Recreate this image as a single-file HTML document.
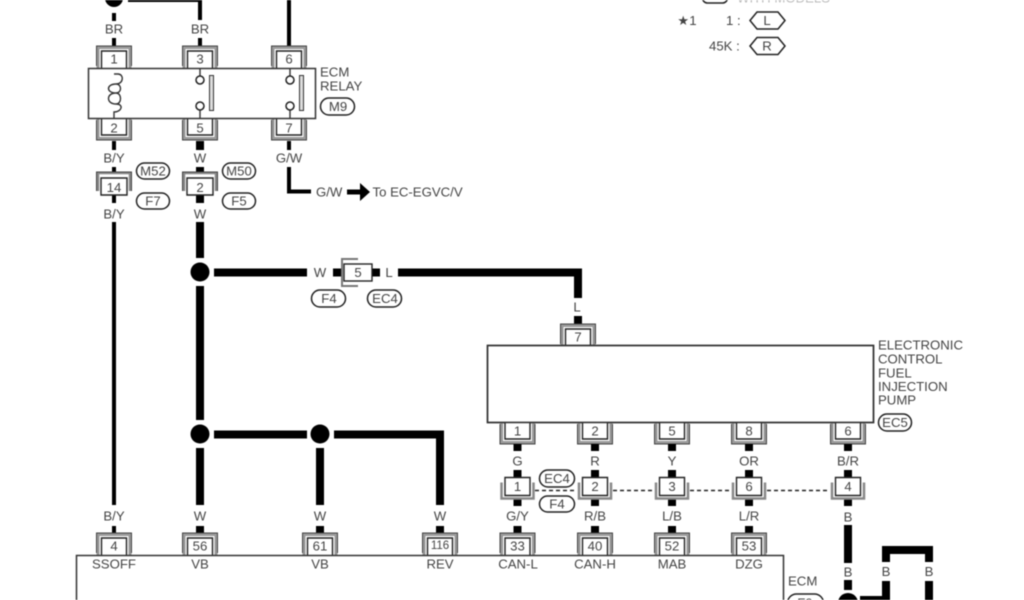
<!DOCTYPE html>
<html>
<head>
<meta charset="utf-8">
<style>
html,body{margin:0;padding:0;background:#fff;width:1024px;height:600px;overflow:hidden}
svg{display:block;filter:blur(0.55px)}
text{font-family:"Liberation Sans",sans-serif;font-size:13.2px;fill:#444;text-anchor:middle;dominant-baseline:central}
.l{text-anchor:start}
.w{fill:none;stroke:#000;stroke-width:4}
.t{fill:none;stroke:#000;stroke-width:8}
.p{fill:#fff;stroke:#222;stroke-width:1.5}
</style>
</head>
<body>
<svg width="1024" height="600" viewBox="0 0 1024 600" xmlns="http://www.w3.org/2000/svg">
<defs>
<g id="up">
<path d="M-16,0V-20.500H16V0" fill="none" stroke="#999" stroke-width="3"/>
<path d="M-17.500,-2V-22H17.500V-2" fill="none" stroke="#444" stroke-width="1"/>
<path d="M-12.500,0V-17H12.500V0" fill="#fff" stroke="#222" stroke-width="1.400"/>
</g>
<g id="dn">
<path d="M-16,0V20.500H16V0" fill="none" stroke="#999" stroke-width="3"/>
<path d="M-17.500,2V22H17.500V2" fill="none" stroke="#444" stroke-width="1"/>
<path d="M-12.500,0V17H12.500V0" fill="#fff" stroke="#222" stroke-width="1.400"/>
</g>
<g id="in">
<path d="M-16,5V21H16V5" fill="none" stroke="#888" stroke-width="2.500"/>
<path d="M-12.500,0H12.500V18H-12.500Z" fill="#fff" stroke="#222" stroke-width="1.400"/>
</g>
<g id="in2">
<path d="M-16,18V0H16V18" fill="none" stroke="#888" stroke-width="2.500"/>
<path d="M-17.500,18V-1H17.500V18" fill="none" stroke="#444" stroke-width="1"/>
<path d="M-13,5H13V22H-13Z" fill="#fff" stroke="#222" stroke-width="1.400"/>
</g>
</defs>

<!-- top-left wires -->
<circle cx="114" cy="-2" r="9"/>
<path class="w" d="M114,13V21M114,38V46M128,0H200V20M200,38V46M289,0V46"/>
<text x="114" y="29">BR</text><text x="200" y="29">BR</text>

<!-- ECM relay connectors -->
<use href="#up" x="114" y="68"/><use href="#up" x="200" y="68"/><use href="#up" x="289" y="68"/>
<use href="#dn" x="114" y="118"/><use href="#dn" x="200" y="118"/><use href="#dn" x="289" y="118"/>
<rect x="88.500" y="68.500" width="227" height="50" fill="#fff" stroke="#333" stroke-width="1.500"/>
<text x="114" y="59">1</text><text x="200" y="59">3</text><text x="289" y="59">6</text>
<text x="114" y="128">2</text><text x="200" y="128">5</text><text x="289" y="128">7</text>
<path d="M114,74H118C124,74 124,84 116,84C106,84 106,93 116,93C106,93 106,104 116,104C124,104 122,112 114,112V118M116,84C122,84 122,93 116,93C122,93 122,104 116,104" fill="none" stroke="#333" stroke-width="1.400"/>
<path d="M200,68V76M200,110V118M290,68V76M290,110V118" stroke="#333" stroke-width="1.400"/>
<circle class="p" cx="200" cy="80" r="4"/><circle class="p" cx="200" cy="106" r="4"/>
<circle class="p" cx="290" cy="80" r="4"/><circle class="p" cx="290" cy="106" r="4"/>
<rect x="209.500" y="75.500" width="4" height="35" fill="#ddd" stroke="#333"/>
<rect x="299.500" y="75.500" width="4" height="35" fill="#ddd" stroke="#333"/>
<text class="l" x="320" y="72">ECM</text><text class="l" x="320" y="86">RELAY</text>
<rect class="p" x="320.500" y="98" width="34" height="17" rx="8.500"/><text x="338" y="106.500">M9</text>

<!-- below relay -->
<path class="w" d="M114,141V150M114,167V174M114,195V203M114,222V505M114,526V534"/>
<path class="t" d="M200,141V150M200,167V174M200,195V203M200,222V258M200,286V420M200,448V505M200,526V534"/>
<path class="w" d="M289,141V150M289,167V191.500H311"/>
<text x="114" y="158">B/Y</text><text x="200" y="158">W</text><text x="289" y="158">G/W</text>
<text x="114" y="214">B/Y</text><text x="200" y="214">W</text>
<use href="#in2" x="114" y="173"/><use href="#in2" x="200" y="173"/>
<text x="114" y="187.500">14</text><text x="200" y="187.500">2</text>
<rect class="p" x="136.500" y="163" width="33" height="16" rx="8"/><text x="153" y="171">M52</text>
<rect class="p" x="136.500" y="193" width="33" height="16" rx="8"/><text x="153" y="201">F7</text>
<rect class="p" x="222.500" y="163" width="33" height="16" rx="8"/><text x="239" y="171">M50</text>
<rect class="p" x="222.500" y="193" width="33" height="16" rx="8"/><text x="239" y="201">F5</text>
<text class="l" x="316" y="192">G/W</text>
<path d="M347,189.500H360V183L370,192L360,201V194.500H347Z"/>
<text class="l" x="372.500" y="192">To EC-EGVC/V</text>

<!-- W / L horizontal -->
<circle cx="200" cy="272" r="9.500"/>
<path class="t" d="M214,272.500H307M333,272.500H343M372,272.500H380M398,272.500H578V298M578,316V324"/>
<text x="320" y="272.500">W</text><text x="389" y="272.500">L</text><text x="577" y="307">L</text>
<path d="M358,259H342V286H358" fill="none" stroke="#777" stroke-width="2"/>
<rect x="344" y="264" width="28" height="17" fill="#fff" stroke="#222" stroke-width="1.400"/>
<text x="358" y="272.500">5</text>
<rect class="p" x="311.500" y="290" width="34" height="17" rx="8.500"/><text x="329" y="298.500">F4</text>
<rect class="p" x="367.500" y="290" width="34" height="17" rx="8.500"/><text x="385" y="298.500">EC4</text>

<!-- injection pump -->
<use href="#up" x="578" y="346"/>
<rect x="487.500" y="345.500" width="386" height="77" fill="#fff" stroke="#333" stroke-width="1.500"/>
<text x="578" y="337">7</text>
<text class="l" x="878" y="345">ELECTRONIC</text><text class="l" x="878" y="359">CONTROL</text><text class="l" x="878" y="373">FUEL</text><text class="l" x="878" y="386.500">INJECTION</text><text class="l" x="878" y="400">PUMP</text>
<rect class="p" x="878.500" y="414" width="33" height="17" rx="8.500"/><text x="895" y="422.500">EC5</text>

<use href="#dn" x="517.500" y="422"/><use href="#dn" x="595" y="422"/><use href="#dn" x="672" y="422"/><use href="#dn" x="749" y="422"/><use href="#dn" x="848" y="422"/>
<rect x="487.500" y="345.500" width="386" height="77" fill="none" stroke="#333" stroke-width="1.500"/>
<text x="517.500" y="431">1</text><text x="595" y="431">2</text><text x="672" y="431">5</text><text x="749" y="431">8</text><text x="848" y="431">6</text>

<path class="t" d="M517.500,444V451M517.500,470V478M517.500,498V506M517.500,526V534M595,444V451M595,470V478M595,498V506M595,526V534M672,444V451M672,470V478M672,498V506M672,526V534M749,444V451M749,470V478M749,498V506M749,526V534M848,444V451M848,470V478M848,498V506M848,525V563M848,580V590"/>
<text x="517.500" y="461">G</text><text x="595" y="461">R</text><text x="672" y="461">Y</text><text x="749" y="461">OR</text><text x="848" y="461">B/R</text>
<use href="#in" x="517.500" y="477.500"/><use href="#in" x="595" y="477.500"/><use href="#in" x="672" y="477.500"/><use href="#in" x="749" y="477.500"/><use href="#in" x="848" y="477.500"/>
<text x="517.500" y="486.500">1</text><text x="595" y="486.500">2</text><text x="672" y="486.500">3</text><text x="749" y="486.500">6</text><text x="848" y="486.500">4</text>
<path d="M535,490.500H577M613,490.500H654M690,490.500H731M767,490.500H830" stroke="#222" stroke-width="1.500" stroke-dasharray="4 3"/>
<rect class="p" x="539.500" y="470" width="35" height="17" rx="8.500"/><text x="557" y="478.500">EC4</text>
<rect class="p" x="539.500" y="496" width="35" height="16" rx="8"/><text x="557" y="504">F4</text>
<text x="517.500" y="516">G/Y</text><text x="595" y="516">R/B</text><text x="672" y="516">L/B</text><text x="749" y="516">L/R</text><text x="848" y="517">B</text>
<text x="114" y="516">B/Y</text><text x="200" y="516">W</text><text x="320" y="516">W</text><text x="440" y="516">W</text>

<!-- junctions -->
<circle cx="200" cy="434" r="9.500"/><circle cx="320" cy="434" r="9.500"/>
<path class="t" d="M214,434.500H307M334,434.500H440V505M320,448V505M320,526V534M440,526V534"/>

<!-- ECM connectors -->
<use href="#up" x="114" y="555"/><use href="#up" x="200" y="555"/><use href="#up" x="320" y="555"/><use href="#up" x="440" y="555"/><use href="#up" x="517.500" y="555"/><use href="#up" x="595" y="555"/><use href="#up" x="672" y="555"/><use href="#up" x="749" y="555"/>
<path d="M76.500,601V555.500H783.500V601" fill="#fff" stroke="#333" stroke-width="1.500"/>
<text x="114" y="546">4</text><text x="200" y="546">56</text><text x="320" y="546">61</text><text x="440" y="546" style="font-size:11.500px">116</text><text x="517.500" y="546">33</text><text x="595" y="546">40</text><text x="672" y="546">52</text><text x="749" y="546">53</text>
<text x="114" y="564">SSOFF</text><text x="200" y="564">VB</text><text x="320" y="564">VB</text><text x="440" y="564">REV</text><text x="518" y="564">CAN-L</text><text x="595" y="564">CAN-H</text><text x="672" y="564">MAB</text><text x="749" y="564">DZG</text>
<text class="l" x="788" y="581">ECM</text>
<rect class="p" x="787.500" y="594" width="36" height="18" rx="9"/><text x="805" y="603">F9</text>

<!-- ground side -->
<text x="848" y="572">B</text>
<circle cx="848" cy="603" r="10"/>
<path class="w" d="M860,598H886"/>
<path class="t" d="M886,562V550H929V562M886,581V601M929,581V601"/>
<text x="886" y="571.500">B</text><text x="929" y="571.500">B</text>

<!-- legend -->
<rect class="p" x="702.500" y="-10" width="25" height="13" rx="5"/>
<text class="l" x="737" y="-2" style="fill:#bbb">WITH MODELS</text>
<text x="687" y="20.500">★1</text>
<text class="l" x="726" y="20.500">1 :</text>
<path class="p" d="M750,20.500L757,12H778L785,20.500L778,29H757Z"/><text x="767" y="20.500">L</text>
<text class="l" x="709" y="46">45K :</text>
<path class="p" d="M750,46L757,37.500H778L785,46L778,54.500H757Z"/><text x="767" y="46">R</text>
</svg>
</body>
</html>
